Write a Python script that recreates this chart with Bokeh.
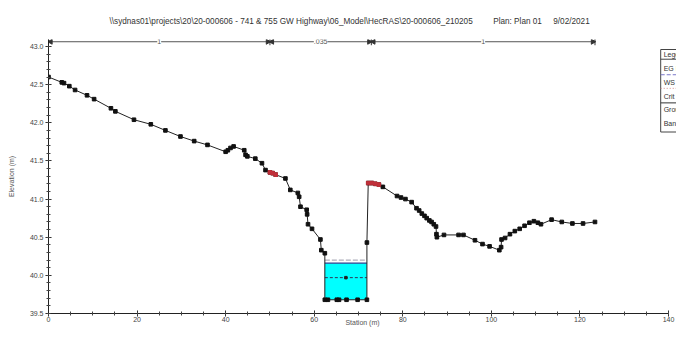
import numpy as np
from bokeh.plotting import figure
from bokeh.models import SingleIntervalTicker, PrintfTickFormatter, Label
from bokeh.embed import file_html
from bokeh.resources import INLINE
from bokeh.core.properties import value

# ---------------- data ----------------
title_path = r"\\sydnas01\projects\20\20-000606 - 741 & 755 GW Highway\06_Model\HecRAS\20-000606_210205"
title_plan = "Plan: Plan 01"
title_date = "9/02/2021"

station = [0.0, 3.0, 3.5, 4.7, 6.0, 8.7, 10.3, 14.1, 15.1, 19.3, 23.1, 26.4, 29.8, 32.9,
           35.9, 40.0, 40.5, 41.1, 41.8, 44.2, 44.5, 44.9, 46.7, 48.2, 49.0, 50.0, 50.6,
           51.3, 53.5, 54.6, 56.3, 56.6, 56.9, 58.3, 58.4, 58.6, 59.5, 61.4, 61.6, 62.4,
           62.4, 63.1, 65.1, 65.6, 67.3, 69.8, 71.9, 71.9, 72.2, 73.0, 73.8, 74.6, 75.5,
           78.7, 79.6, 80.6, 82.0, 83.1, 83.7, 84.3, 84.9, 85.4, 86.0, 86.5, 87.0, 87.5,
           87.6, 87.7, 89.3, 92.6, 93.7, 96.3, 98.0, 99.6, 101.8, 102.2, 102.3, 103.1,
           104.2, 105.3, 106.4, 107.5, 108.6, 109.6, 110.5, 111.2, 113.6, 115.9, 118.3,
           120.7, 123.4]
elevation = [42.60, 42.53, 42.52, 42.48, 42.43, 42.36, 42.31, 42.19, 42.15, 42.04, 41.98,
             41.90, 41.82, 41.76, 41.71, 41.62, 41.64, 41.67, 41.69, 41.64, 41.58, 41.56,
             41.53, 41.47, 41.38, 41.35, 41.34, 41.32, 41.27, 41.12, 41.08, 41.03, 40.90,
             40.86, 40.80, 40.67, 40.61, 40.47, 40.33, 40.29, 39.68, 39.68, 39.68, 39.68,
             39.68, 39.68, 39.68, 40.43, 41.21, 41.21, 41.20, 41.19, 41.16, 41.04, 41.02,
             41.00, 40.96, 40.88, 40.85, 40.81, 40.78, 40.75, 40.72, 40.70, 40.67, 40.64,
             40.54, 40.50, 40.53, 40.53, 40.53, 40.46, 40.41, 40.38, 40.33, 40.37, 40.47,
             40.49, 40.54, 40.58, 40.61, 40.65, 40.69, 40.71, 40.69, 40.67, 40.73, 40.70,
             40.68, 40.68, 40.70]
bank_station = [50.0, 50.6, 51.3, 72.2, 73.0, 73.8, 74.6]

ws_elev = 40.16      # WS PF 1
eg_elev = 40.20      # EG PF 1
crit_elev = 39.97    # Crit PF 1

n_breaks = [0.0, 50.0, 72.9, 123.4]
n_values = ["1", ".035", "1"]

legend_items = ["Legend", "EG PF 1", "WS PF 1", "Crit PF 1", "Ground", "Bank Sta"]

x_ticks_interval = 20
y_ticks_interval = 0.5

# ---------------- layout ----------------
FONT = "Liberation Sans"
W, H = 676, 328
FRAME_L = 48
FRAME_T = 39
FRAME_B = 313
Y_TOP_TICK = 46                 # pixel of 43.0
YMIN = 39.5
XS = (668 - FRAME_L) / 140.0    # px per metre (station)
YS = (FRAME_B - Y_TOP_TICK) / 3.5
XMAX = (W - FRAME_L) / XS
YMAX = YMIN + (FRAME_B - FRAME_T) / YS


# positions of decorations (its own pixel scale)
def dx(px_ref):
    return (px_ref - 48) / 4.514


def dy(py_ref):
    return YMIN + (324 - py_ref) / 78.6


p = figure(width=W, height=H, x_range=(0, XMAX), y_range=(YMIN, YMAX),
           output_backend="svg", toolbar_location=None,
           min_border_left=FRAME_L, min_border_right=0,
           min_border_top=FRAME_T, min_border_bottom=H - FRAME_B)
p.outline_line_color = None
p.xgrid.visible = False
p.ygrid.visible = False
p.background_fill_color = "white"
p.border_fill_color = "white"

p.title.text = title_path + "\u00a0" * 9 + title_plan + "\u00a0" * 5 + title_date
p.title.text_font = FONT
p.title.text_font_size = "8.2px"
p.title.text_font_style = "normal"
p.title.text_color = "#333333"
p.title.align = "left"
p.title.offset = 61
p.title.standoff = 27

for ax in (p.xaxis[0], p.yaxis[0]):
    ax.axis_line_color = "#222222"
    ax.major_tick_line_color = "#222222"
    ax.minor_tick_line_color = "#444444"
    ax.major_tick_in = 3
    ax.major_tick_out = 3
    ax.minor_tick_in = 2
    ax.minor_tick_out = 2
    ax.major_label_text_font = FONT
    ax.major_label_text_font_size = "7px"
    ax.major_label_text_color = "#444444"
    ax.axis_label_text_font = FONT
    ax.axis_label_text_font_size = "7px"
    ax.axis_label_text_font_style = "normal"
    ax.axis_label_text_color = "#555555"

p.xaxis.ticker = SingleIntervalTicker(interval=x_ticks_interval, num_minor_ticks=4)
p.xaxis.bounds = (0, 140)
p.xaxis.major_label_standoff = 0
p.xaxis.axis_label = "Station (m)"
p.xaxis.axis_label_standoff = -6

p.yaxis.ticker = SingleIntervalTicker(interval=y_ticks_interval, num_minor_ticks=5)
p.yaxis.formatter = PrintfTickFormatter(format="%.1f")
p.yaxis.major_label_standoff = 2
p.yaxis.axis_label = "Elevation (m)"
p.yaxis.axis_label_standoff = 12

st = np.array(station)
el = np.array(elevation)

# ---------------- water (wet area under WS) ----------------
wx, wy = [], []
for i in range(len(st) - 1):
    x0, y0, x1, y1 = st[i], el[i], st[i + 1], el[i + 1]
    if y0 <= ws_elev:
        wx.append(x0); wy.append(y0)
    if (y0 - ws_elev) * (y1 - ws_elev) < 0:
        t = (ws_elev - y0) / (y1 - y0)
        wx.append(x0 + t * (x1 - x0)); wy.append(ws_elev)
wx = np.array(wx); wy = np.array(wy)
p.varea(x=wx, y1=wy, y2=ws_elev, fill_color="#00ffff", fill_alpha=1.0)
wl, wr = wx.min(), wx.max()

p.line([wl, wr], [ws_elev, ws_elev], line_color="#2a3f8f", line_width=1.2)
p.line([wl, wr], [eg_elev, eg_elev], line_color="#9a9aa8", line_width=1, line_dash="5 2")
p.line([wl, wr], [crit_elev, crit_elev], line_color="#333355", line_width=1, line_dash="3 2")
p.scatter([(wl + wr) / 2], [crit_elev], marker="square", size=2.5, color="#222222")

# ---------------- ground ----------------
p.line(st, el, line_color="#222222", line_width=1)
p.scatter(st, el, marker="square", size=3.6, color="#111111")
bank_el = np.interp(bank_station, st, el)
p.scatter(bank_station, bank_el, marker="square", size=3.6, color="#c0303a")

# ---------------- Manning's n bar ----------------
n_y = dy(44)
tick_h = 3.5 / YS
for xb in n_breaks:
    p.line([xb, xb], [n_y - tick_h, n_y + tick_h], line_color="#333333", line_width=1)
for a, b, lab in zip(n_breaks[:-1], n_breaks[1:], n_values):
    p.line([a, b], [n_y, n_y], line_color="#555555", line_width=1)
    head = 2.2 / XS
    p.scatter([a + head], [n_y], marker="triangle", size=5, angle=np.pi / 2, color="#333333")
    p.scatter([b - head], [n_y], marker="triangle", size=5, angle=-np.pi / 2, color="#333333")
    p.add_layout(Label(x=(a + b) / 2, y=n_y, text=lab, text_font=FONT, text_font_size="7px",
                       text_color="#555555", text_align="center", text_baseline="middle",
                       background_fill_color="white"))

# ---------------- legend box (partially cut off on the right) ----------------
lx0, lx1 = dx(672), dx(730)
ly0, ly1 = dy(52), dy(137)
p.quad(left=lx0, right=lx1, bottom=ly1, top=ly0, fill_color="white",
       line_color="#444444", line_width=1)
rows_y = [57, 72, 86, 100, 114, 128]
for txt, ry in zip(legend_items, rows_y):
    p.text(x=[dx(675)], y=[dy(ry)], text=[txt], text_font=value(FONT),
           text_font_size="7px", text_color="#333333", text_baseline="middle")
p.line([lx0, lx1], [dy(62), dy(62)], line_color="#444444", line_width=1)
p.line([lx0, lx1], [dy(78), dy(78)], line_color="#7a78c8", line_width=1, line_dash="4 2")
p.line([lx0, lx1], [dy(92), dy(92)], line_color="#d08a8a", line_width=1, line_dash="1 2")
p.line([lx0, lx1], [dy(107), dy(107)], line_color="#333333", line_width=1)

open("out.html", "w").write(file_html(p, INLINE))
